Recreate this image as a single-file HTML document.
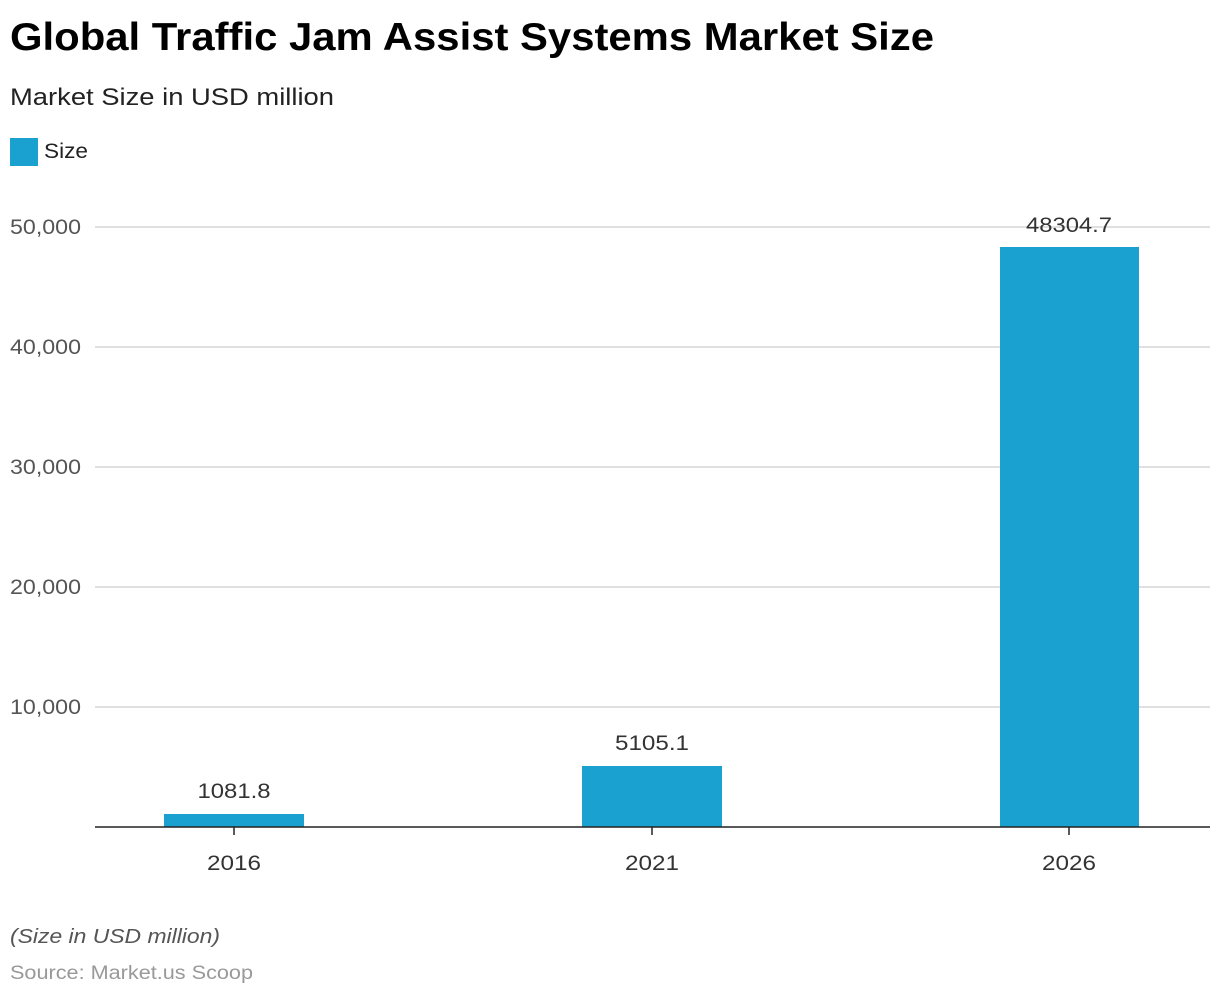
<!DOCTYPE html>
<html><head><meta charset="utf-8"><style>
html,body{margin:0;padding:0;background:#fff;width:1220px;height:998px;overflow:hidden}
svg{display:block}
text{font-family:"Liberation Sans",Arial,sans-serif}
</style></head><body>
<svg width="1220" height="998" viewBox="0 0 1220 998">
<text x="10" y="50" font-size="39" font-weight="bold" fill="#000" textLength="924" lengthAdjust="spacingAndGlyphs">Global Traffic Jam Assist Systems Market Size</text>
<text x="10" y="105" font-size="24" fill="#222" textLength="324" lengthAdjust="spacingAndGlyphs">Market Size in USD million</text>
<rect x="10" y="138" width="28" height="28" fill="#1aa1cf"/>
<text x="44" y="158" font-size="21" fill="#222" textLength="44" lengthAdjust="spacingAndGlyphs">Size</text>
<g stroke="#d6d6d6" stroke-width="1.5">
<line x1="95" y1="227" x2="1210" y2="227"/>
<line x1="95" y1="347" x2="1210" y2="347"/>
<line x1="95" y1="467" x2="1210" y2="467"/>
<line x1="95" y1="587" x2="1210" y2="587"/>
<line x1="95" y1="707" x2="1210" y2="707"/>
</g>
<g font-size="21" fill="#555" text-anchor="end">
<text x="81" y="234" textLength="71" lengthAdjust="spacingAndGlyphs">50,000</text>
<text x="81" y="354" textLength="71" lengthAdjust="spacingAndGlyphs">40,000</text>
<text x="81" y="474" textLength="71" lengthAdjust="spacingAndGlyphs">30,000</text>
<text x="81" y="594" textLength="71" lengthAdjust="spacingAndGlyphs">20,000</text>
<text x="81" y="714" textLength="71" lengthAdjust="spacingAndGlyphs">10,000</text>
</g>
<g fill="#1aa1cf">
<rect x="164" y="814" width="140" height="13"/>
<rect x="582" y="766" width="140" height="61"/>
<rect x="1000" y="247" width="139" height="580"/>
</g>
<g font-size="21" fill="#333" text-anchor="middle">
<text x="234" y="798" textLength="73" lengthAdjust="spacingAndGlyphs">1081.8</text>
<text x="652" y="750" textLength="74" lengthAdjust="spacingAndGlyphs">5105.1</text>
<text x="1069" y="232" textLength="86" lengthAdjust="spacingAndGlyphs">48304.7</text>
</g>
<line x1="95" y1="827" x2="1210" y2="827" stroke="#222" stroke-width="1.5"/>
<g stroke="#222" stroke-width="1.5">
<line x1="234" y1="827" x2="234" y2="835"/>
<line x1="652" y1="827" x2="652" y2="835"/>
<line x1="1069" y1="827" x2="1069" y2="835"/>
</g>
<g font-size="21" fill="#333" text-anchor="middle">
<text x="234" y="870" textLength="54" lengthAdjust="spacingAndGlyphs">2016</text>
<text x="652" y="870" textLength="54" lengthAdjust="spacingAndGlyphs">2021</text>
<text x="1069" y="870" textLength="54" lengthAdjust="spacingAndGlyphs">2026</text>
</g>
<text x="10" y="943" font-size="20" font-style="italic" fill="#555" textLength="210" lengthAdjust="spacingAndGlyphs">(Size in USD million)</text>
<text x="10" y="979" font-size="19" fill="#999" textLength="243" lengthAdjust="spacingAndGlyphs">Source: Market.us Scoop</text>
</svg>
</body></html>
